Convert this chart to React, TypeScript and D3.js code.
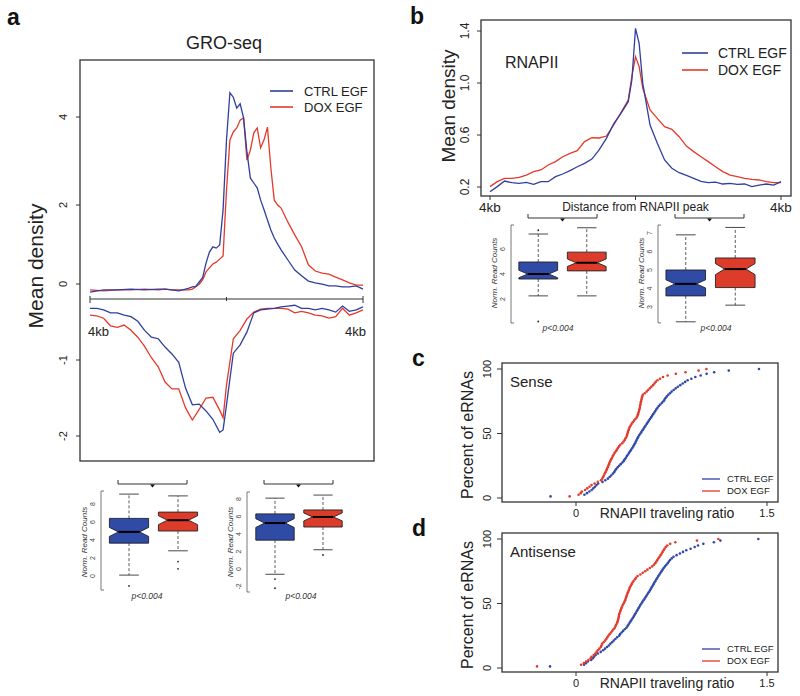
import React from 'react';
import * as d3 from 'd3';

const FONT = "'Liberation Sans', Arial, Helvetica, sans-serif";
const LINE_BLUE = '#2f3f9f';
const LINE_RED = '#e5392c';
const BOX_BLUE = '#2f4ba6';
const BOX_RED = '#dd3c2b';
const DOT_BLUE = '#3049a8';
const DOT_RED = '#e23b2d';

// ---------- Panel a: GRO-seq metaprofile ----------
const groUpPos = [-4, -3.6, -3.2, -2.8, -2.4, -2.0, -1.8, -1.6, -1.4, -1.2, -1.1, -1.0, -0.9, -0.8, -0.7, -0.6, -0.5, -0.4, -0.3, -0.2, -0.1, 0, 0.1, 0.2, 0.3, 0.4, 0.5, 0.6, 0.7, 0.8, 0.9, 1.0, 1.1, 1.2, 1.3, 1.4, 1.5, 1.6, 1.8, 2.0, 2.2, 2.4, 2.6, 2.8, 3.0, 3.2, 3.4, 3.6, 3.8, 4.0];
const groUpCtrl = [0.02, 0.07, 0.07, 0.09, 0.07, 0.09, 0.09, 0.07, 0.05, 0.09, 0.11, 0.14, 0.15, 0.25, 0.35, 0.68, 0.93, 1.05, 1.02, 1.09, 1.89, 3.48, 4.55, 4.45, 4.2, 4.3, 3.98, 3.2, 2.61, 2.5, 2.39, 2.11, 1.89, 1.66, 1.43, 1.25, 1.11, 0.98, 0.75, 0.52, 0.39, 0.27, 0.23, 0.2, 0.16, 0.16, 0.14, 0.14, 0.16, 0.09];
const groUpDox = [0.07, 0.05, 0.07, 0.07, 0.09, 0.07, 0.09, 0.07, 0.07, 0.07, 0.07, 0.09, 0.14, 0.2, 0.3, 0.48, 0.57, 0.66, 0.7, 0.77, 0.84, 2.34, 3.48, 3.66, 3.75, 3.93, 3.98, 3.02, 3.25, 3.64, 3.75, 3.3, 3.48, 3.77, 2.84, 2.11, 2.0, 1.93, 1.61, 1.32, 1.05, 0.64, 0.5, 0.45, 0.43, 0.36, 0.3, 0.23, 0.18, 0.18];
const groLowPos = [-4, -3.8, -3.6, -3.4, -3.2, -3.0, -2.8, -2.6, -2.4, -2.2, -2.0, -1.8, -1.6, -1.4, -1.2, -1.0, -0.8, -0.6, -0.4, -0.2, -0.1, 0, 0.2, 0.4, 0.6, 0.8, 1.0, 1.2, 1.4, 1.6, 1.8, 2.0, 2.2, 2.4, 2.6, 2.8, 3.0, 3.2, 3.4, 3.6, 3.8, 4.0];
const groLowCtrl = [-0.32, -0.32, -0.34, -0.38, -0.38, -0.41, -0.43, -0.49, -0.61, -0.7, -0.72, -0.83, -0.92, -1.03, -1.37, -1.59, -1.58, -1.67, -1.78, -1.95, -1.92, -1.59, -0.91, -0.8, -0.63, -0.38, -0.34, -0.33, -0.32, -0.3, -0.29, -0.28, -0.32, -0.32, -0.34, -0.32, -0.34, -0.37, -0.29, -0.36, -0.34, -0.3];
const groLowDox = [-0.41, -0.42, -0.45, -0.55, -0.57, -0.54, -0.61, -0.7, -0.82, -0.97, -1.09, -1.29, -1.38, -1.38, -1.63, -1.79, -1.65, -1.5, -1.49, -1.66, -1.76, -1.33, -0.72, -0.61, -0.46, -0.37, -0.33, -0.32, -0.32, -0.32, -0.33, -0.38, -0.36, -0.38, -0.41, -0.42, -0.45, -0.43, -0.32, -0.41, -0.38, -0.34];
const groTicksUp = [2, 4];
const groTicksDown = [0, -1, -2];

// ---------- Panel b: RNAPII metaprofile ----------
const polPos = [-4, -3.8, -3.6, -3.4, -3.2, -3.0, -2.8, -2.6, -2.4, -2.2, -2.0, -1.8, -1.6, -1.4, -1.2, -1.0, -0.8, -0.6, -0.4, -0.2, -0.1, 0, 0.1, 0.2, 0.4, 0.6, 0.8, 1.0, 1.2, 1.4, 1.6, 1.8, 2.0, 2.2, 2.4, 2.6, 2.8, 3.0, 3.2, 3.4, 3.6, 3.8, 4.0];
const polCtrl = [0.164, 0.203, 0.246, 0.233, 0.228, 0.236, 0.22, 0.241, 0.241, 0.28, 0.3, 0.326, 0.356, 0.382, 0.415, 0.485, 0.574, 0.685, 0.767, 0.856, 1.023, 1.42, 1.305, 0.997, 0.677, 0.536, 0.408, 0.344, 0.31, 0.29, 0.267, 0.244, 0.233, 0.238, 0.223, 0.228, 0.22, 0.223, 0.203, 0.215, 0.223, 0.215, 0.241];
const polDox = [0.203, 0.241, 0.267, 0.267, 0.274, 0.292, 0.318, 0.331, 0.369, 0.395, 0.433, 0.459, 0.479, 0.549, 0.579, 0.577, 0.592, 0.677, 0.772, 0.869, 1.049, 1.203, 1.126, 0.959, 0.792, 0.728, 0.664, 0.644, 0.587, 0.515, 0.472, 0.433, 0.395, 0.356, 0.318, 0.292, 0.28, 0.267, 0.259, 0.254, 0.241, 0.233, 0.233];
const polTicks = [0.2, 0.6, 1.0, 1.4];

// ---------- Boxplots: [whiskerLo, Q1, median, Q3, whiskerHi, notchHalfWidth] ----------
const groBox1Ctrl = [0.1, 3.65, 4.9, 6.4, 9.1, 0.5];
const groBox1Dox = [2.8, 5.0, 6.2, 7.1, 8.9, 0.5];
const groBox1CtrlOut = [-1.1];
const groBox1DoxOut = [1.6, 0.8];
const groBox2Ctrl = [-0.6, 3.3, 5.25, 6.3, 8.1, 0.5];
const groBox2Dox = [2.2, 4.8, 5.95, 6.75, 8.45, 0.45];
const groBox2CtrlOut = [-1.15, -2.2];
const groBox2DoxOut = [1.6];
const polBox1Ctrl = [2.25, 3.6, 4.0, 4.96, 7.2, 0.3];
const polBox1Dox = [2.25, 4.25, 4.9, 5.75, 7.7, 0.3];
const polBox1CtrlOut = [7.5, 0.2];
const polBox1DoxOut: number[] = [];
const polBox2Ctrl = [2.2, 3.6, 4.25, 5.0, 6.9, 0.22];
const polBox2Dox = [3.1, 4.05, 5.05, 5.65, 7.3, 0.3];
const polBox2CtrlOut: number[] = [];
const polBox2DoxOut: number[] = [];
const groBox1Ticks = [0, 2, 4, 6, 8];
const groBox2Ticks = [-2, 0, 2, 4, 6, 8];
const polBox1Ticks = [2, 4, 6];
const polBox2Ticks = [3, 4, 5, 6, 7];

// ---------- Panels c, d: RNAPII traveling ratio ECDFs ----------
const senseCtrl = [-0.2, 0.066, 0.086, 0.105, 0.123, 0.136, 0.149, 0.161, 0.174, 0.208, 0.23, 0.25, 0.264, 0.276, 0.289, 0.299, 0.307, 0.316, 0.327, 0.339, 0.351, 0.364, 0.375, 0.383, 0.392, 0.4, 0.409, 0.417, 0.425, 0.433, 0.442, 0.45, 0.457, 0.464, 0.47, 0.476, 0.483, 0.489, 0.497, 0.506, 0.514, 0.522, 0.531, 0.539, 0.547, 0.556, 0.564, 0.572, 0.581, 0.59, 0.598, 0.606, 0.615, 0.623, 0.631, 0.64, 0.65, 0.662, 0.675, 0.687, 0.695, 0.703, 0.713, 0.725, 0.738, 0.751, 0.767, 0.783, 0.8, 0.819, 0.838, 0.857, 0.877, 0.906, 0.937, 0.979, 1.026, 1.085, 1.2, 1.437];
const senseDox = [-0.05, 0.02, 0.037, 0.046, 0.072, 0.088, 0.106, 0.122, 0.146, 0.171, 0.196, 0.206, 0.213, 0.219, 0.225, 0.231, 0.238, 0.243, 0.249, 0.254, 0.259, 0.264, 0.27, 0.276, 0.283, 0.289, 0.296, 0.304, 0.313, 0.321, 0.329, 0.338, 0.348, 0.363, 0.374, 0.382, 0.389, 0.397, 0.401, 0.404, 0.408, 0.412, 0.417, 0.422, 0.429, 0.437, 0.446, 0.456, 0.466, 0.477, 0.483, 0.487, 0.491, 0.495, 0.498, 0.501, 0.503, 0.506, 0.508, 0.511, 0.514, 0.517, 0.52, 0.525, 0.54, 0.555, 0.567, 0.58, 0.592, 0.605, 0.616, 0.626, 0.64, 0.66, 0.683, 0.72, 0.784, 0.86, 0.963, 1.024];
const antiCtrl = [-0.204, 0.063, 0.078, 0.093, 0.119, 0.132, 0.142, 0.154, 0.172, 0.194, 0.213, 0.228, 0.244, 0.258, 0.27, 0.283, 0.296, 0.309, 0.323, 0.339, 0.346, 0.358, 0.37, 0.383, 0.396, 0.405, 0.413, 0.421, 0.429, 0.437, 0.446, 0.454, 0.461, 0.468, 0.476, 0.483, 0.49, 0.498, 0.505, 0.514, 0.521, 0.53, 0.539, 0.547, 0.555, 0.563, 0.571, 0.58, 0.587, 0.594, 0.602, 0.609, 0.616, 0.624, 0.631, 0.639, 0.647, 0.655, 0.664, 0.672, 0.68, 0.689, 0.699, 0.71, 0.72, 0.729, 0.739, 0.752, 0.766, 0.79, 0.816, 0.84, 0.866, 0.9, 0.932, 0.958, 1.0, 1.083, 1.134, 1.432];
const antiDox = [-0.306, 0.04, 0.062, 0.08, 0.098, 0.115, 0.122, 0.139, 0.152, 0.162, 0.172, 0.184, 0.195, 0.2, 0.205, 0.217, 0.229, 0.238, 0.246, 0.254, 0.264, 0.275, 0.285, 0.295, 0.305, 0.311, 0.316, 0.323, 0.327, 0.331, 0.334, 0.336, 0.338, 0.342, 0.347, 0.351, 0.356, 0.361, 0.367, 0.374, 0.38, 0.386, 0.39, 0.395, 0.398, 0.403, 0.408, 0.414, 0.419, 0.423, 0.43, 0.437, 0.444, 0.452, 0.463, 0.471, 0.484, 0.505, 0.524, 0.543, 0.561, 0.58, 0.598, 0.612, 0.622, 0.631, 0.639, 0.647, 0.656, 0.664, 0.673, 0.68, 0.688, 0.695, 0.705, 0.717, 0.74, 0.78, 0.95, 1.118];
const ecdfYTicks = [0, 50, 100];
const ecdfXTicks = [0, 1.5];
const legendLabels = ['CTRL EGF', 'DOX EGF'];

type Scale = d3.ScaleLinear<number, number>;

function VText({ x, y, size, children, italic, fill }: any) {
  return (
    <text transform={`translate(${x},${y}) rotate(-90)`} textAnchor="middle" dy="0.35em"
      fontSize={size} fontStyle={italic ? 'italic' : 'normal'} fill={fill || '#222'}>{children}</text>
  );
}

function PanelA() {
  const x = d3.scaleLinear().domain([-4, 4]).range([90, 363]);
  const yUp = d3.scaleLinear().domain([0, 4]).range([293, 117]);
  const yDn = d3.scaleLinear().domain([0, -2]).range([284, 436]);
  const up = (pos: number[]) => d3.line<number>().x((_, i) => x(pos[i])).y(d => yUp(d));
  const dn = (pos: number[]) => d3.line<number>().x((_, i) => x(pos[i])).y(d => yDn(d));
  const ticks = [...groTicksUp.map(t => ({ t, y: yUp(t) })), ...groTicksDown.map(t => ({ t, y: yDn(t) }))];
  return (
    <g>
      <text x={7} y={25} fontSize={23} fontWeight="bold" fill="#111">a</text>
      <text x={224} y={49} fontSize={18} textAnchor="middle" fill="#222">GRO-seq</text>
      <rect x={80} y={60} width={294} height={401} fill="none" stroke="#333" strokeWidth={1.3} />
      {ticks.map(d => (
        <g key={d.t}>
          <line x1={76} x2={80} y1={d.y} y2={d.y} stroke="#333" />
          <VText x={63} y={d.y} size={11}>{String(d.t)}</VText>
        </g>
      ))}
      <VText x={36} y={266} size={21}>Mean density</VText>
      <line x1={x(-4)} x2={x(4)} y1={299} y2={299} stroke="#333" strokeWidth={1} />
      {[-4, 0, 4].map(t => (
        <line key={t} x1={x(t)} x2={x(t)} y1={t === 0 ? 297 : 296} y2={t === 0 ? 301 : 303} stroke="#333" />
      ))}
      <text x={88} y={336} fontSize={13} fill="#222">4kb</text>
      <text x={366} y={336} fontSize={13} textAnchor="end" fill="#222">4kb</text>
      <path d={up(groUpPos)(groUpDox) || ''} fill="none" stroke={LINE_RED} strokeWidth={1.3} />
      <path d={up(groUpPos)(groUpCtrl) || ''} fill="none" stroke={LINE_BLUE} strokeWidth={1.3} />
      <path d={dn(groLowPos)(groLowDox) || ''} fill="none" stroke={LINE_RED} strokeWidth={1.3} />
      <path d={dn(groLowPos)(groLowCtrl) || ''} fill="none" stroke={LINE_BLUE} strokeWidth={1.3} />
      {legendLabels.map((l, i) => (
        <g key={l}>
          <line x1={270} x2={293} y1={91 + i * 16} y2={91 + i * 16} stroke={i === 0 ? LINE_BLUE : LINE_RED} strokeWidth={1.6} />
          <text x={304} y={91 + i * 16} dy="0.35em" fontSize={13} fill="#222">{l}</text>
        </g>
      ))}
    </g>
  );
}

function PanelB() {
  const x = d3.scaleLinear().domain([-4, 4]).range([490, 781]);
  const y = d3.scaleLinear().domain([0.2, 1.4]).range([187, 31]);
  const ln = d3.line<number>().x((_, i) => x(polPos[i])).y(d => y(d));
  return (
    <g>
      <text x={410} y={24} fontSize={23} fontWeight="bold" fill="#111">b</text>
      <rect x={481} y={20} width={310} height={176} fill="none" stroke="#333" strokeWidth={1.3} />
      {polTicks.map(t => (
        <g key={t}>
          <line x1={477} x2={481} y1={y(t)} y2={y(t)} stroke="#333" />
          <VText x={465} y={y(t)} size={12}>{t.toFixed(1)}</VText>
        </g>
      ))}
      <VText x={448} y={106} size={19}>Mean density</VText>
      {[-4, 0, 4].map(t => (
        <line key={t} x1={x(t)} x2={x(t)} y1={196} y2={200} stroke="#333" />
      ))}
      <text x={x(-4)} y={212} fontSize={13.5} textAnchor="middle" fill="#222">4kb</text>
      <text x={x(4)} y={212} fontSize={13.5} textAnchor="middle" fill="#222">4kb</text>
      <text x={x(0)} y={211} fontSize={12} textAnchor="middle" fill="#222">Distance from RNAPII peak</text>
      <text x={505} y={68} fontSize={16} fill="#222">RNAPII</text>
      <path d={ln(polDox) || ''} fill="none" stroke={LINE_RED} strokeWidth={1.3} />
      <path d={ln(polCtrl) || ''} fill="none" stroke={LINE_BLUE} strokeWidth={1.3} />
      {legendLabels.map((l, i) => (
        <g key={l}>
          <line x1={682} x2={708} y1={53 + i * 17} y2={53 + i * 17} stroke={i === 0 ? LINE_BLUE : LINE_RED} strokeWidth={1.6} />
          <text x={718} y={53 + i * 17} dy="0.35em" fontSize={14} fill="#222">{l}</text>
        </g>
      ))}
    </g>
  );
}

type BoxGroupProps = {
  axisX: number; y: Scale; xs: Scale; ticks: number[]; axisDomain: [number, number];
  boxes: number[][]; outliers: number[][]; bracketY: number; pX: number; pY: number; labelY: number;
};

function BoxGroup({ axisX, y, xs, ticks, axisDomain, boxes, outliers, bracketY, pX, pY, labelY }: BoxGroupProps) {
  const fills = [BOX_BLUE, BOX_RED];
  const bx0 = axisX + 17, bx1 = axisX + 86, bc = (bx0 + bx1) / 2;
  const yA0 = y(axisDomain[0]), yA1 = y(axisDomain[1]);
  return (
    <g>
      <path d={`M${bx0},${bracketY - 4}V${bracketY}H${bx1}V${bracketY - 4}`} fill="none" stroke="#333" strokeWidth={1} />
      <path d={`M${bc - 2.5},${bracketY + 0.5}L${bc + 2.5},${bracketY + 0.5}L${bc},${bracketY + 3.5}Z`} fill="#111" />
      <path d={`M${axisX + 3},${yA0}H${axisX}V${yA1}H${axisX + 3}`} fill="none" stroke="#555" strokeWidth={0.8} />
      {ticks.map(t => (
        <VText key={t} x={axisX - 8} y={y(t)} size={7} fill="#444">{String(t)}</VText>
      ))}
      <VText x={axisX - 17} y={labelY} size={8} italic fill="#333">Norm. Read Counts</VText>
      {boxes.map((b, k) => {
        const [lo, q1, med, q3, hi, nh] = b;
        const cx = xs(k + 1);
        const hw = xs(k + 1.4) - xs(k + 1);
        const xl = cx - hw, xr = cx + hw, ind = hw * 0.46;
        const pts: [number, number][] = [
          [xl, y(q1)], [xl, y(med - nh)], [xl + ind, y(med)], [xl, y(med + nh)], [xl, y(q3)],
          [xr, y(q3)], [xr, y(med + nh)], [xr - ind, y(med)], [xr, y(med - nh)], [xr, y(q1)],
        ];
        return (
          <g key={k}>
            <line x1={cx} x2={cx} y1={y(q3)} y2={y(hi)} stroke="#333" strokeWidth={0.8} strokeDasharray="3,2" />
            <line x1={cx} x2={cx} y1={y(q1)} y2={y(lo)} stroke="#333" strokeWidth={0.8} strokeDasharray="3,2" />
            <line x1={cx - hw / 2} x2={cx + hw / 2} y1={y(hi)} y2={y(hi)} stroke="#333" strokeWidth={0.9} />
            <line x1={cx - hw / 2} x2={cx + hw / 2} y1={y(lo)} y2={y(lo)} stroke="#333" strokeWidth={0.9} />
            <polygon points={pts.map(p => p.join(',')).join(' ')} fill={fills[k]} stroke="#222" strokeWidth={0.9} />
            <line x1={xl + ind} x2={xr - ind} y1={y(med)} y2={y(med)} stroke="#000" strokeWidth={2} />
            {outliers[k].map((o, j) => (
              <circle key={j} cx={cx} cy={y(o)} r={0.9} fill="#222" />
            ))}
          </g>
        );
      })}
      <text x={pX} y={pY} fontSize={8.5} fontStyle="italic" textAnchor="middle" fill="#333">p&lt;0.004</text>
    </g>
  );
}

function EcdfPanel({ top, ctrl, dox, label, letter }: { top: number; ctrl: number[]; dox: number[]; label: string; letter: string }) {
  const x = d3.scaleLinear().domain([0, 1.5]).range([576, 767]);
  const y = d3.scaleLinear().domain([0, 100]).range([top + 135, top + 6]);
  const bottom = top + 139;
  const series = [
    { vals: ctrl, color: DOT_BLUE },
    { vals: dox, color: DOT_RED },
  ];
  return (
    <g>
      <text x={412} y={top + 3} fontSize={23} fontWeight="bold" fill="#111">{letter}</text>
      <rect x={502} y={top} width={276} height={139} fill="none" stroke="#333" strokeWidth={1.3} />
      {ecdfYTicks.map(t => (
        <g key={t}>
          <line x1={497} x2={502} y1={y(t)} y2={y(t)} stroke="#333" />
          <VText x={487} y={y(t)} size={11}>{String(t)}</VText>
        </g>
      ))}
      {ecdfXTicks.map(t => (
        <g key={t}>
          <line x1={x(t)} x2={x(t)} y1={bottom} y2={bottom + 4} stroke="#333" />
          <text x={x(t)} y={bottom + 15} fontSize={11} textAnchor="middle" fill="#222">{String(t)}</text>
        </g>
      ))}
      <text x={667} y={bottom + 16} fontSize={14} textAnchor="middle" fill="#222">RNAPII traveling ratio</text>
      <VText x={467} y={top + 72} size={16}>Percent of eRNAs</VText>
      <text x={510} y={top + 24} fontSize={15} fill="#222">{label}</text>
      {series.map((s, si) => (
        <g key={si}>
          {s.vals.map((v, i) => (
            <circle key={i} cx={x(v)} cy={y(((i + 1) / s.vals.length) * 100)} r={1.3} fill={s.color} />
          ))}
        </g>
      ))}
      {legendLabels.map((l, i) => (
        <g key={l}>
          <line x1={702} x2={720} y1={top + 116 + i * 12} y2={top + 116 + i * 12} stroke={i === 0 ? LINE_BLUE : LINE_RED} strokeWidth={1.3} />
          <text x={727} y={top + 116 + i * 12} dy="0.35em" fontSize={9.5} fill="#222">{l}</text>
        </g>
      ))}
    </g>
  );
}

export default function App() {
  const yA1 = d3.scaleLinear().domain([0, 8]).range([576, 504]);
  const yA2 = d3.scaleLinear().domain([0, 8]).range([569, 499]);
  const yB1 = d3.scaleLinear().domain([2, 6]).range([299, 249]);
  const yB2 = d3.scaleLinear().domain([3, 7]).range([307, 233]);
  const xA1 = d3.scaleLinear().domain([0.5, 2.5]).range([104.5, 202.5]);
  const xA2 = d3.scaleLinear().domain([0.5, 2.5]).range([251, 347]);
  const xB1 = d3.scaleLinear().domain([0.5, 2.5]).range([514, 611]);
  const xB2 = d3.scaleLinear().domain([0.5, 2.5]).range([661, 760]);
  return (
    <svg width={800} height={696} style={{ position: 'absolute', left: 0, top: 0, background: '#fff' }} fontFamily={FONT}>
      <rect x={0} y={0} width={800} height={696} fill="#fff" />
      <PanelA />
      <PanelB />
      <BoxGroup axisX={101} y={yA1} xs={xA1} ticks={groBox1Ticks} axisDomain={[-1.56, 9.44]}
        boxes={[groBox1Ctrl, groBox1Dox]} outliers={[groBox1CtrlOut, groBox1DoxOut]}
        bracketY={484} pX={147} pY={599} labelY={542} />
      <BoxGroup axisX={247} y={yA2} xs={xA2} ticks={groBox2Ticks} axisDomain={[-2.63, 8.8]}
        boxes={[groBox2Ctrl, groBox2Dox]} outliers={[groBox2CtrlOut, groBox2DoxOut]}
        bracketY={484} pX={301} pY={599} labelY={542} />
      <BoxGroup axisX={511} y={yB1} xs={xB1} ticks={polBox1Ticks} axisDomain={[0.08, 7.92]}
        boxes={[polBox1Ctrl, polBox1Dox]} outliers={[polBox1CtrlOut, polBox1DoxOut]}
        bracketY={218} pX={558} pY={331} labelY={273} />
      <BoxGroup axisX={658} y={yB2} xs={xB2} ticks={polBox2Ticks} axisDomain={[2.14, 7.43]}
        boxes={[polBox2Ctrl, polBox2Dox]} outliers={[polBox2CtrlOut, polBox2DoxOut]}
        bracketY={218} pX={716} pY={331} labelY={273} />
      <EcdfPanel top={363} ctrl={senseCtrl} dox={senseDox} label="Sense" letter="c" />
      <EcdfPanel top={533} ctrl={antiCtrl} dox={antiDox} label="Antisense" letter="d" />
    </svg>
  );
}
